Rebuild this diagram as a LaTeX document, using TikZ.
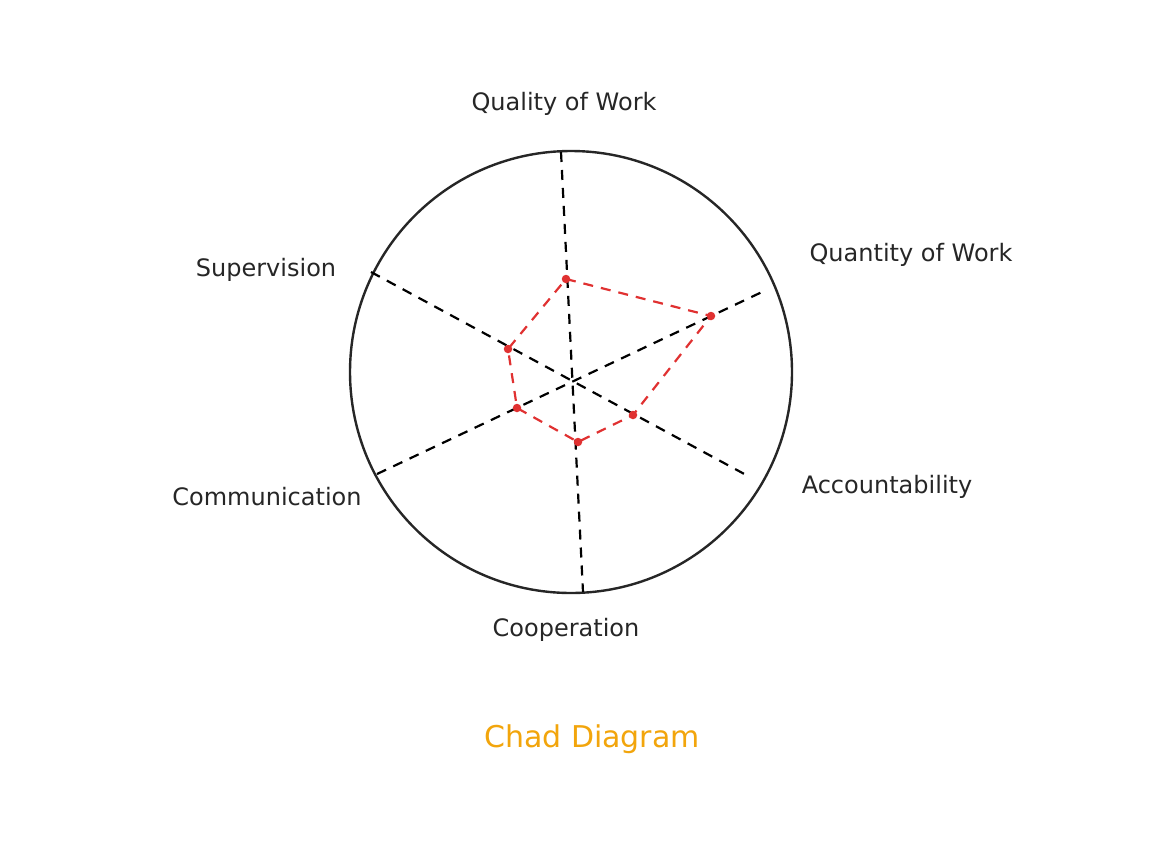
\documentclass[tikz,border=0pt]{standalone}
\usepackage{fontspec}
\setmainfont{DejaVu Sans}
\usetikzlibrary{positioning}
\definecolor{chadred}{HTML}{E03131}
\definecolor{chadgold}{HTML}{F2A50C}
\tikzset{
x=1pt, y=-1pt, % pixel-like units, y pointing down
spoke/.style={line width=2.2pt, dash pattern=on 10pt off 8pt}, % dashed axes of the chart
score/.style={spoke, draw=chadred}, % red outline of the scores
dot/.style={circle, fill=chadred, inner sep=0pt, minimum size=8.5pt}, % score points
axistext/.style={font=\fontsize{24}{27}\selectfont, text=black!85}, % axis names
}

\begin{document}
\begin{tikzpicture}
    \useasboundingbox (0,0) rectangle (1176,844);

    % Outer circle
    \node[circle, draw=black!85, line width=2.4pt, minimum size=442pt, inner sep=0pt] (rim) at (571,372) {};

    % Axis end points
    \coordinate (qwTop) at (561,152);
    \coordinate (coBot) at (583,592);
    \coordinate (suEnd) at (371,272);
    \coordinate (acEnd) at (748,476);
    \coordinate (cmEnd) at (377,474);
    \coordinate (qnEnd) at (762,292);
    \draw[spoke] (qwTop) -- (coBot);
    \draw[spoke] (suEnd) -- (acEnd);
    \draw[spoke] (cmEnd) -- (qnEnd);

    % Scores
    \node[dot] (qw) at (566,279) {};
    \node[dot] (qn) at (711,316) {};
    \node[dot] (ac) at (633,415) {};
    \node[dot] (co) at (578,442) {};
    \node[dot] (cm) at (517,408) {};
    \node[dot] (su) at (508,349) {};
    \draw[score] (qw.center) -- (qn.center) -- (ac.center) -- (co.center)
        -- (cm.center) -- (su.center) -- cycle;

    % Axis names
    \node[axistext] (lqw) at (564,104) {Quality of Work};
    \node[axistext] (lqn) at (911,255) {Quantity of Work};
    \node[axistext] (lsu) at (266,270) {Supervision};
    \node[axistext] (lac) at (887,487) {Accountability};
    \node[axistext] (lcm) at (267,497) {Communication};
    \node[axistext] (lco) at (566,630) {Cooperation};

    % Title
    \node[font=\fontsize{30}{33}\selectfont, text=chadgold] (title) at (592,739) {Chad Diagram};
\end{tikzpicture}
\end{document}
